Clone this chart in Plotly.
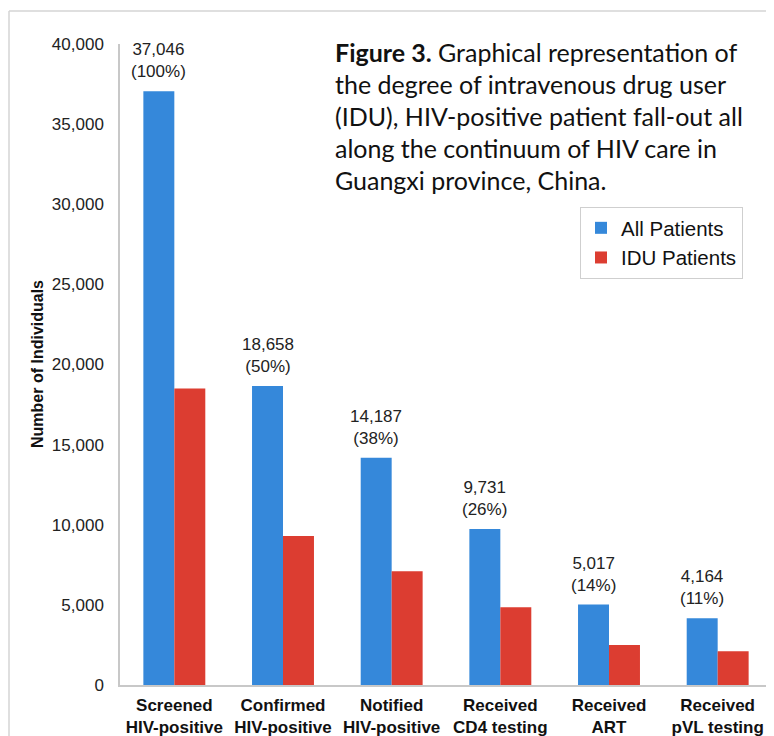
import plotly.graph_objects as go

categories = ["Screened<br>HIV-positive", "Confirmed<br>HIV-positive", "Notified<br>HIV-positive",
              "Received<br>CD4 testing", "Received<br>ART", "Received<br>pVL testing"]
all_patients = [37046, 18658, 14187, 9731, 5017, 4164]
all_pct = ["100%", "50%", "38%", "26%", "14%", "11%"]
idu_patients = [18500, 9300, 7100, 4850, 2500, 2100]
y_ticks = [0, 5000, 10000, 15000, 20000, 25000, 30000, 35000, 40000]
y_tick_labels = ["0", "5,000", "10,000", "15,000", "20,000", "25,000", "30,000", "35,000", "40,000"]
title_lines = [
    "<b>Figure 3.</b> Graphical representation of",
    "the degree of intravenous drug user",
    "(IDU), HIV-positive patient fall-out all",
    "along the continuum of HIV care in",
    "Guangxi province, China.",
]

# page has an 8px body margin; figure is placed at (8, 8)
OFF = 8
W, H = 774 - OFF, 736 - OFF
L, T = 120 - OFF, 44 - OFF
R = W - (772 - OFF)
B = H - (685 - OFF)
pw, ph = W - L - R, H - T - B

def px_x(x):
    return (x - OFF - L) / pw

def px_y(y):
    return 1 - (y - OFF - T) / ph

FONT = "Liberation Sans, Arial"

fig = go.Figure()
fig.add_trace(go.Bar(
    x=categories, y=all_patients, name="All Patients",
    marker=dict(color="#3588da", line=dict(width=0)),
))
fig.add_trace(go.Bar(
    x=categories, y=idu_patients, name="IDU Patients",
    marker=dict(color="#dc3d31", line=dict(width=0)),
))

annotations = []
for c, v, p in zip(categories, all_patients, all_pct):
    annotations.append(dict(
        text=f"{v:,}<br>({p})", x=c, y=v, xref="x", yref="y",
        xanchor="center", yanchor="bottom", xshift=-15.5, yshift=8,
        showarrow=False, align="center",
        font=dict(family=FONT, size=17, color="#222222"),
    ))
for i, line in enumerate(title_lines):
    annotations.append(dict(
        text=line, xref="paper", yref="paper", x=px_x(333), y=px_y(52 + 32 * i),
        xanchor="left", yanchor="middle", showarrow=False, align="left",
        font=dict(family="Lato", size=25, color="#111111"),
    ))
annotations.append(dict(
    text="<b>Number of Individuals</b>", xref="paper", yref="paper",
    x=px_x(37), y=px_y(364), xanchor="center", yanchor="middle",
    textangle=-90, showarrow=False,
    font=dict(family=FONT, size=16, color="#111111"),
))

fig.update_layout(
    width=W, height=H,
    margin=dict(l=L, r=R, t=T, b=B, pad=0, autoexpand=False),
    paper_bgcolor="white", plot_bgcolor="white",
    barmode="group", bargap=0.43, bargroupgap=0,
    font=dict(family=FONT, color="#222222"),
    showlegend=True,
    legend=dict(
        x=px_x(580), y=px_y(207), xanchor="left", yanchor="top",
        bordercolor="#cfcfcf", borderwidth=1, bgcolor="white",
        font=dict(family=FONT, size=20.5, color="#111111"),
        itemsizing="constant", itemwidth=30,
    ),
    annotations=annotations,
    shapes=[
        dict(type="line", xref="paper", yref="paper", x0=px_x(9), x1=px_x(790),
             y0=px_y(11), y1=px_y(11), line=dict(color="#d4d4d4", width=1.5)),
        dict(type="line", xref="paper", yref="paper", x0=px_x(9), x1=px_x(9),
             y0=px_y(11), y1=px_y(760), line=dict(color="#d4d4d4", width=1.5)),
    ],
)

fig.update_yaxes(
    range=[0, 40000], tickvals=y_ticks, ticktext=y_tick_labels,
    showgrid=False, zeroline=False, showline=True, linecolor="#c8c8c8", linewidth=1.5,
    ticks="", ticklabelstandoff=11,
    tickfont=dict(family=FONT, size=17, color="#222222"),
)
fig.update_xaxes(
    showgrid=False, showline=True, linecolor="#c8c8c8", linewidth=1.5,
    ticks="", ticklabelstandoff=4,
    tickfont=dict(family=FONT, size=17, color="#111111"),
    tickprefix="<b>", ticksuffix="</b>",
)

fig.write_html("out.html")
